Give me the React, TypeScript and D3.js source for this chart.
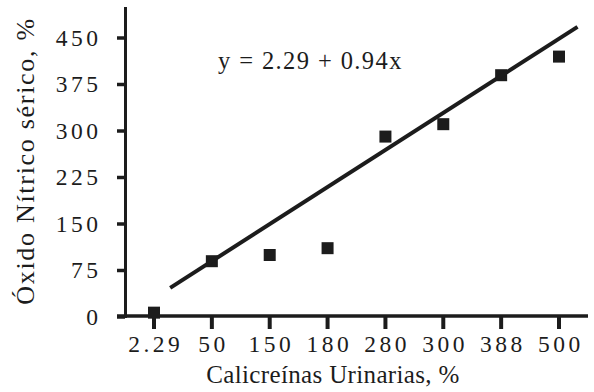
import React from "react";
import * as d3 from "d3";

const categories = ["2.29", "50", "150", "180", "280", "300", "388", "500"];
const values = [7, 90, 100, 111, 291, 311, 390, 420];
const yTicks = [0, 75, 150, 225, 300, 375, 450];
const fitIndex = [0.28, 7.32];
const fitValue = [47, 468];
const equation = "y = 2.29 + 0.94x";
const xTitle = "Calicreínas Urinarias, %";
const yTitle = "Óxido Nítrico sérico, %";

const W = 594;
const H = 392;
const INK = "#1c1c1c";
const FONT = "'Liberation Serif', 'Times New Roman', serif";

export default function App() {
  const x = d3.scalePoint<string>().domain(categories).range([154, 559]);
  const xi = d3.scaleLinear().domain([0, categories.length - 1]).range([154, 559]);
  const y = d3.scaleLinear().domain([0, 500]).range([317, 7]);
  const fitLine = d3
    .line<number>()
    .x((_, k) => xi(fitIndex[k]))
    .y((v) => y(v));

  const tickLS = 3.5;
  const tickFS = 23.5;
  const sq = 12;

  return (
    <svg
      width={W}
      height={H}
      style={{ position: "absolute", left: 0, top: 0, background: "#fff" }}
    >
      <rect width={W} height={H} fill="#fff" />
      {/* axes */}
      <line x1={125.5} x2={125.5} y1={7} y2={318} stroke={INK} strokeWidth={3} />
      <line x1={117} x2={588} y1={316} y2={316} stroke={INK} strokeWidth={3.5} />
      {yTicks.map((t) => (
        <g key={"y" + t}>
          <line x1={117} x2={125} y1={y(t)} y2={y(t)} stroke={INK} strokeWidth={3.5} />
          <text
            x={98 + tickLS}
            y={y(t) + 7.5}
            textAnchor="end"
            fontFamily={FONT}
            fontSize={tickFS}
            letterSpacing={tickLS}
            fill={INK}
          >
            {t}
          </text>
        </g>
      ))}
      {categories.map((c) => (
        <g key={"x" + c}>
          <line x1={x(c)!} x2={x(c)!} y1={316} y2={329} stroke={INK} strokeWidth={4} />
          <text
            x={x(c)! + tickLS / 2}
            y={352}
            textAnchor="middle"
            fontFamily={FONT}
            fontSize={tickFS}
            letterSpacing={tickLS}
            fill={INK}
          >
            {c}
          </text>
        </g>
      ))}
      {/* points */}
      {categories.map((c, k) => (
        <rect
          key={"p" + c}
          x={x(c)! - sq / 2}
          y={y(values[k]) - sq / 2}
          width={sq}
          height={sq}
          fill={INK}
        />
      ))}
      {/* regression line */}
      <path d={fitLine(fitValue) || ""} fill="none" stroke={INK} strokeWidth={4} />
      {/* equation */}
      <text
        x={218}
        y={69}
        fontFamily={FONT}
        fontSize={24.5}
        letterSpacing={1.4}
        fill={INK}
      >
        {equation}
      </text>
      {/* axis titles */}
      <text
        x={333}
        y={383}
        textAnchor="middle"
        fontFamily={FONT}
        fontSize={25}
        letterSpacing={0.35}
        fill={INK}
      >
        {xTitle}
      </text>
      <text
        transform={`translate(34, 161) rotate(-90)`}
        textAnchor="middle"
        fontFamily={FONT}
        fontSize={26}
        letterSpacing={1.7}
        fill={INK}
      >
        {yTitle}
      </text>
    </svg>
  );
}
